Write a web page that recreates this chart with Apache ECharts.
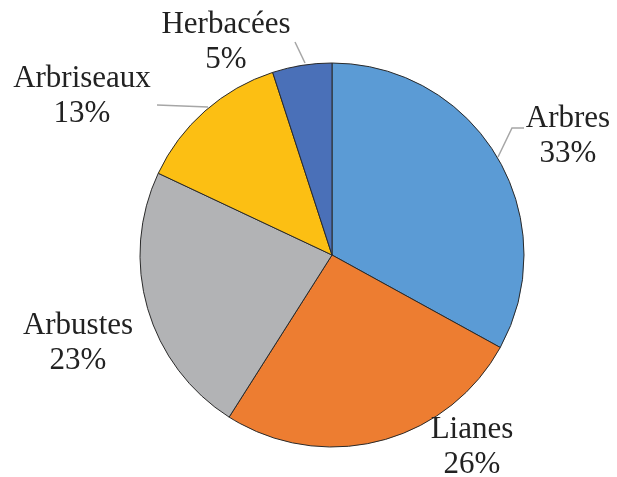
<!DOCTYPE html>
<html>
<head>
<meta charset="utf-8">
<script src="https://cdn.jsdelivr.net/npm/echarts@6/dist/echarts.min.js"></script>
<style>
  html, body { margin: 0; padding: 0; background: #ffffff; }
  #chart { width: 617px; height: 477px; }
</style>
</head>
<body>
<div id="chart"></div>
<script>
// Composition by plant type (percent)
const categories = ['Arbres', 'Lianes', 'Arbustes', 'Arbriseaux', 'Herbacées'];
const shares = [33, 26, 23, 13, 5];

const sliceColors = ['#5B9BD5', '#ED7D31', '#B2B3B5', '#FCBF13', '#4A70B8'];

// Label anchor placement (centre of each two-line label) and leader lines
const labelAnchors = [
  [568, 136],
  [472, 447],
  [78, 343],
  [82, 96],
  [226, 42]
];
const leaderLines = [
  [[498, 157], [512, 128], [524, 128]],
  null,
  null,
  [[208, 107], [157, 105]],
  [[305, 63], [295, 42]]
];

const chart = echarts.init(document.getElementById('chart'), null, { renderer: 'canvas' });

const data = categories.map((name, i) => ({
  name: name,
  value: shares[i],
  itemStyle: { color: sliceColors[i] },
  labelLine: { show: !!leaderLines[i] }
}));

chart.setOption({
  animation: false,
  backgroundColor: '#ffffff',
  series: [{
    type: 'pie',
    center: [332, 255],
    radius: [0, 192],
    startAngle: 90,
    clockwise: true,
    data: data,
    itemStyle: { borderColor: '#2a2a2a', borderWidth: 1 },
    label: {
      show: true,
      position: 'outside',
      overflow: 'none',
      edgeDistance: 0,
      formatter: p => p.name + '\n' + p.value + '%',
      fontFamily: '"Liberation Serif", "Times New Roman", serif',
      fontSize: 31,
      lineHeight: 35,
      color: '#222222',
      align: 'center'
    },
    labelLine: {
      show: true,
      lineStyle: { color: '#A6A6A6', width: 1.5 }
    },
    labelLayout: function (params) {
      const i = params.dataIndex;
      const out = {
        x: labelAnchors[i][0],
        y: labelAnchors[i][1],
        align: 'center',
        verticalAlign: 'middle'
      };
      if (leaderLines[i]) out.labelLinePoints = leaderLines[i];
      return out;
    },
    emphasis: { disabled: true }
  }]
});
</script>
</body>
</html>
